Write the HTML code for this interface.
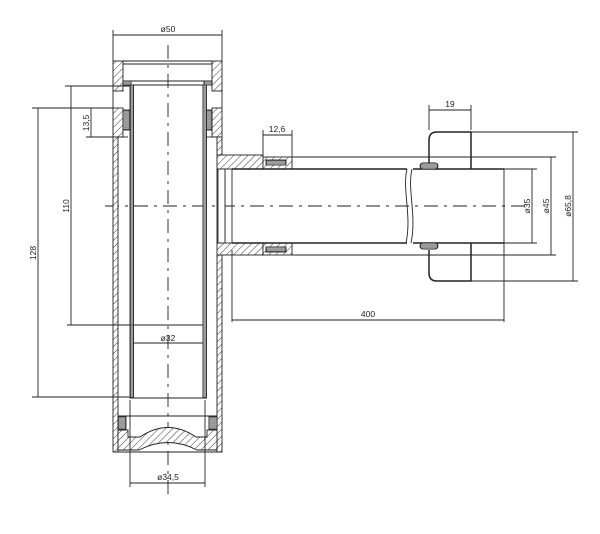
<!DOCTYPE html>
<html><head><meta charset="utf-8"><style>
html,body{margin:0;padding:0;background:#fff;}
svg{display:block;}
text{font-family:"Liberation Sans",sans-serif;font-size:8.5px;fill:#222;}
</style></head><body>
<svg width="600" height="534" viewBox="0 0 600 534" xmlns="http://www.w3.org/2000/svg">
<defs>
<pattern id="h" width="5" height="5" patternUnits="userSpaceOnUse" patternTransform="rotate(45)">
<rect width="5" height="5" fill="#fff"/><line x1="0" y1="0" x2="0" y2="5" stroke="#222" stroke-width="0.9"/>
</pattern>
<pattern id="d" width="2" height="2" patternUnits="userSpaceOnUse">
<rect width="2" height="2" fill="#fff"/><circle cx="1" cy="1" r="0.8" fill="#222"/>
</pattern>
</defs>
<g stroke="#222" stroke-width="0.9" fill="none">
<line x1="168" y1="45" x2="168" y2="500" stroke-dasharray="14,6,3,6"/>
<line x1="105" y1="206" x2="530" y2="206" stroke-dasharray="14,6,3,6"/>
<rect x="113" y="61" width="10" height="30" fill="url(#h)"/>
<rect x="212" y="61" width="10" height="30" fill="url(#h)"/>
<line x1="123" y1="61" x2="212" y2="61"/>
<line x1="123" y1="64" x2="212" y2="64"/>
<line x1="123" y1="81" x2="212" y2="81"/>
<rect x="123" y="81" width="8" height="4" fill="url(#d)"/>
<rect x="204" y="81" width="8" height="4" fill="url(#d)"/>
<line x1="130" y1="85" x2="206" y2="85"/>
<rect x="113" y="108" width="10" height="29" fill="url(#h)"/>
<rect x="212" y="108" width="10" height="29" fill="url(#h)"/>
<rect x="123" y="110" width="7" height="20" fill="url(#d)"/>
<rect x="205" y="110" width="7" height="20" fill="url(#d)"/>
<line x1="113" y1="91" x2="113" y2="108"/>
<line x1="222" y1="91" x2="222" y2="108"/>
<rect x="113" y="137" width="5" height="315" fill="url(#h)"/>
<rect x="217" y="137" width="5" height="18" fill="url(#h)"/>
<rect x="217" y="255" width="5" height="197" fill="url(#h)"/>
<line x1="118" y1="137" x2="128" y2="137"/>
<line x1="207" y1="137" x2="217" y2="137"/>
<rect x="130" y="85" width="3.5" height="313" fill="url(#d)"/>
<rect x="203" y="85" width="3.5" height="313" fill="url(#d)"/>
<line x1="133.5" y1="325" x2="203" y2="325"/>
<line x1="130" y1="398" x2="206.5" y2="398"/>
<rect x="217" y="155" width="46" height="14" fill="url(#h)"/>
<rect x="217" y="243" width="46" height="12" fill="url(#h)"/>
<rect x="263" y="157" width="29" height="12" fill="url(#h)"/>
<rect x="263" y="243" width="29" height="12" fill="url(#h)"/>
<rect x="266" y="160" width="20" height="5" fill="url(#d)"/>
<rect x="266" y="247" width="20" height="5" fill="url(#d)"/>
<line x1="225" y1="169" x2="225" y2="243"/>
<line x1="232" y1="169" x2="232" y2="243"/>
<rect x="217" y="169" width="8" height="74" fill="#fff"/>
<line x1="218" y1="169" x2="218" y2="243"/>
<line x1="232" y1="169" x2="407" y2="169" stroke-width="1.5"/>
<line x1="232" y1="243" x2="407" y2="243" stroke-width="1.5"/>
<line x1="413" y1="169" x2="504" y2="169" stroke-width="1.5"/>
<line x1="413" y1="243" x2="504" y2="243" stroke-width="1.5"/>
<line x1="504" y1="169" x2="504" y2="322"/>
<path d="M407 169 C402 190,412 215,406 243 M412 169 C407 190,417 215,411 243"/>
<path d="M429 163 L429 140 Q429 132 437 132 L471 132 L471 169 M471 243 L471 281 L437 281 Q429 281 429 273 L429 250" stroke-width="1.5"/>
<rect x="420" y="163" width="18" height="6" rx="3" fill="url(#d)"/>
<rect x="420" y="243" width="18" height="6" rx="3" fill="url(#d)"/>
<line x1="118" y1="416" x2="217" y2="416"/>
<rect x="118" y="417" width="8" height="12" fill="url(#d)"/>
<rect x="209" y="417" width="8" height="12" fill="url(#d)"/>
<path d="M118 430 L128 430 L128 437 L140 437 Q168 418 196 437 L207 437 L207 430 L217 430 L217 450 L197 450 Q168 435 139 450 L118 450 Z" fill="url(#h)"/>
<line x1="113" y1="452" x2="222" y2="452"/>
<line x1="113" y1="30" x2="113" y2="61"/><line x1="222" y1="30" x2="222" y2="61"/>
<line x1="113" y1="35" x2="222" y2="35"/>
<line x1="65" y1="86" x2="130" y2="86"/>
<line x1="71" y1="86" x2="71" y2="325"/>
<line x1="67" y1="325" x2="133" y2="325"/>
<line x1="32" y1="108" x2="113" y2="108"/>
<line x1="38" y1="108" x2="38" y2="397"/>
<line x1="32" y1="397" x2="130" y2="397"/>
<line x1="86" y1="137" x2="113" y2="137"/>
<line x1="91" y1="108" x2="91" y2="137"/>
<line x1="263" y1="130" x2="263" y2="157"/><line x1="292" y1="130" x2="292" y2="157"/>
<line x1="263" y1="135" x2="292" y2="135"/>
<line x1="133" y1="343" x2="203" y2="343"/>
<line x1="130" y1="400" x2="130" y2="487"/><line x1="205" y1="400" x2="205" y2="487"/>
<line x1="130" y1="483" x2="205" y2="483"/>
<line x1="429" y1="105" x2="429" y2="130"/><line x1="471" y1="105" x2="471" y2="130"/>
<line x1="429" y1="110" x2="471" y2="110"/>
<line x1="471" y1="132" x2="578" y2="132"/><line x1="471" y1="281" x2="578" y2="281"/>
<line x1="573" y1="132" x2="573" y2="281"/>
<line x1="292" y1="157" x2="556" y2="157"/><line x1="292" y1="255" x2="556" y2="255"/>
<line x1="551" y1="157" x2="551" y2="255"/>
<line x1="504" y1="169" x2="537" y2="169"/><line x1="504" y1="243" x2="537" y2="243"/>
<line x1="532" y1="169" x2="532" y2="243"/>
<line x1="232" y1="250" x2="232" y2="322"/>
<line x1="232" y1="320" x2="504" y2="320"/>
</g>
<g fill="#222">
<text x="168" y="32" text-anchor="middle">ø50</text>
<text x="277" y="132" text-anchor="middle">12,6</text>
<text x="450" y="107" text-anchor="middle">19</text>
<text x="368" y="317" text-anchor="middle">400</text>
<text x="168" y="341" text-anchor="middle">ø32</text>
<text x="168" y="480" text-anchor="middle">ø34,5</text>
<text transform="translate(89,123) rotate(-90)" text-anchor="middle">13,5</text>
<text transform="translate(69,206) rotate(-90)" text-anchor="middle">110</text>
<text transform="translate(36,253) rotate(-90)" text-anchor="middle">128</text>
<text transform="translate(530,206) rotate(-90)" text-anchor="middle">ø35</text>
<text transform="translate(549,206) rotate(-90)" text-anchor="middle">ø45</text>
<text transform="translate(571,206) rotate(-90)" text-anchor="middle">ø65,8</text>
</g>
</svg>
</body></html>
